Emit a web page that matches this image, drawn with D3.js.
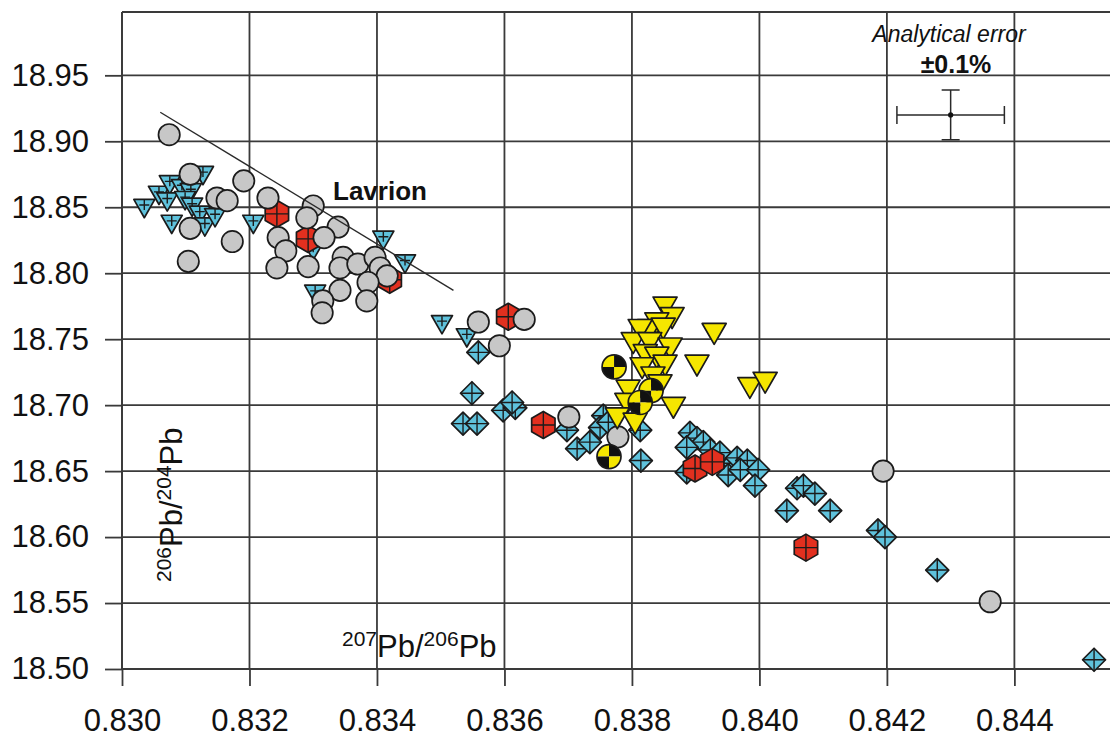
<!DOCTYPE html>
<html>
<head>
<meta charset="utf-8">
<script src="https://cdn.jsdelivr.net/npm/d3@7"></script>
<style>
  html, body { margin: 0; padding: 0; background: #fff; }
  svg { display: block; font-family: "Liberation Sans", Arial, sans-serif; }
</style>
</head>
<body>
<svg id="chart" width="1110" height="738"></svg>
<script>
// ---- data: 207Pb/206Pb (x) vs 206Pb/204Pb (y) ----
const xTicks = [0.830, 0.832, 0.834, 0.836, 0.838, 0.840, 0.842, 0.844];
const yTicks = [18.50, 18.55, 18.60, 18.65, 18.70, 18.75, 18.80, 18.85, 18.90, 18.95];

const blueDiamonds = [
  [0.83559, 18.740], [0.83549, 18.709], [0.83535, 18.686], [0.83557, 18.686],
  [0.83598, 18.696], [0.83617, 18.698], [0.83612, 18.702],
  [0.83698, 18.681], [0.83714, 18.667], [0.83734, 18.672], [0.83755, 18.692],
  [0.83750, 18.683], [0.83763, 18.687], [0.83813, 18.681], [0.83814, 18.658],
  [0.83891, 18.679], [0.83902, 18.675], [0.83912, 18.672], [0.83886, 18.668],
  [0.83886, 18.649], [0.83923, 18.666], [0.83938, 18.664], [0.83959, 18.656],
  [0.83951, 18.647], [0.83965, 18.660], [0.83981, 18.658], [0.83970, 18.651],
  [0.83998, 18.651], [0.83993, 18.639], [0.84059, 18.637], [0.84069, 18.639],
  [0.84087, 18.633], [0.84043, 18.620], [0.84111, 18.620], [0.84186, 18.605],
  [0.84197, 18.600], [0.84279, 18.575], [0.84525, 18.507]
];

const blueTriangles = [
  [0.83035, 18.849], [0.83058, 18.859], [0.83075, 18.867], [0.83071, 18.854],
  [0.83094, 18.864], [0.83108, 18.861], [0.83127, 18.874], [0.83099, 18.855],
  [0.83110, 18.850], [0.83122, 18.844], [0.83078, 18.837], [0.83130, 18.835],
  [0.83146, 18.842], [0.83206, 18.837], [0.83300, 18.817], [0.83410, 18.825],
  [0.83444, 18.807], [0.83303, 18.784], [0.83502, 18.761], [0.83541, 18.751]
];

const redHexagons = [
  [0.83243, 18.845], [0.83292, 18.826], [0.83420, 18.795], [0.83606, 18.767],
  [0.83661, 18.685], [0.83899, 18.652], [0.83926, 18.657], [0.84073, 18.592]
];

const grayCircles = [
  [0.83074, 18.905], [0.83107, 18.875], [0.83149, 18.857], [0.83165, 18.855],
  [0.83191, 18.870], [0.83229, 18.857], [0.83300, 18.851], [0.83290, 18.842],
  [0.83339, 18.835], [0.83107, 18.834], [0.83173, 18.824], [0.83245, 18.827],
  [0.83257, 18.817], [0.83243, 18.804], [0.83292, 18.805], [0.83317, 18.827],
  [0.83347, 18.812], [0.83342, 18.804], [0.83370, 18.807], [0.83397, 18.812],
  [0.83405, 18.804], [0.83416, 18.798], [0.83386, 18.793], [0.83342, 18.787],
  [0.83315, 18.779], [0.83314, 18.770], [0.83384, 18.779], [0.83104, 18.809],
  [0.83559, 18.763], [0.83631, 18.765], [0.83592, 18.745], [0.83701, 18.691],
  [0.83778, 18.676], [0.84194, 18.650], [0.84362, 18.551]
];

const yellowTriangles = [
  [0.83852, 18.774], [0.83863, 18.766], [0.83839, 18.762], [0.83828, 18.757],
  [0.83849, 18.758], [0.83813, 18.757], [0.83802, 18.747], [0.83828, 18.747],
  [0.83860, 18.743], [0.83821, 18.738], [0.83839, 18.736], [0.83852, 18.730],
  [0.83816, 18.728], [0.83902, 18.730], [0.83833, 18.721], [0.83844, 18.715],
  [0.83794, 18.711], [0.83792, 18.701], [0.83865, 18.698], [0.83777, 18.690],
  [0.83805, 18.686], [0.83929, 18.754], [0.83985, 18.713], [0.84009, 18.717]
];

const quarteredCircles = [
  [0.83772, 18.729], [0.83830, 18.711], [0.83813, 18.702], [0.83764, 18.661]
];

const lavrionLine = [[0.8306, 18.922], [0.8352, 18.787]];
const errorCenter = [0.843, 18.92];
const errorPercent = 0.1;

// ---- layout ----
const W = 1110, H = 738;
const plotLeft = 122, plotRight = 1110, plotTop = 12, plotBottom = 669;

const x = d3.scaleLinear().domain([0.830, 0.8455]).range([plotLeft, plotRight]);
const y = d3.scaleLinear().domain([18.50, 18.998]).range([plotBottom, plotTop]);

const svg = d3.select("#chart");
const ink = "#1b1b1b";
const gridColor = "#3a3a3a";

// ---- grid ----
const grid = svg.append("g");
grid.selectAll("line.v").data(xTicks).join("line")
  .attr("x1", d => x(d)).attr("x2", d => x(d))
  .attr("y1", y(18.50)).attr("y2", plotTop)
  .attr("stroke", gridColor).attr("stroke-width", 1.8);
grid.selectAll("line.h").data(yTicks).join("line")
  .attr("x1", plotLeft).attr("x2", plotRight)
  .attr("y1", d => y(d)).attr("y2", d => y(d))
  .attr("stroke", gridColor).attr("stroke-width", 1.8);
grid.append("line").attr("x1", plotLeft).attr("x2", plotRight)
  .attr("y1", plotTop).attr("y2", plotTop)
  .attr("stroke", gridColor).attr("stroke-width", 1.8);
grid.append("line").attr("x1", plotLeft).attr("x2", plotLeft)
  .attr("y1", plotTop).attr("y2", plotBottom)
  .attr("stroke", gridColor).attr("stroke-width", 1.8);

// ---- axes ----
const yAxis = svg.append("g").attr("transform", `translate(${plotLeft},0)`)
  .call(d3.axisLeft(y).tickValues(yTicks).tickFormat(d3.format(".2f"))
    .tickSize(17).tickPadding(16).tickSizeOuter(0));
const xAxis = svg.append("g").attr("transform", `translate(0,${plotBottom})`)
  .call(d3.axisBottom(x).tickValues(xTicks).tickFormat(d3.format(".3f"))
    .tickSize(17).tickPadding(23).tickSizeOuter(0));
[yAxis, xAxis].forEach(g => {
  g.select(".domain").remove();
  g.selectAll(".tick line").attr("stroke", gridColor).attr("stroke-width", 1.8);
  g.selectAll(".tick text").attr("fill", "#111")
    .style("font-family", "'Liberation Sans', Arial, sans-serif");
});
yAxis.selectAll(".tick text").style("font-size", "31px");
xAxis.selectAll(".tick text").style("font-size", "31px");

// ---- symbol shapes (size = radius squared) ----
const hexagon = {
  draw(ctx, size) {
    const r = Math.sqrt(size);
    for (let i = 0; i < 6; i++) {
      const a = -Math.PI / 2 + i * Math.PI / 3;
      i ? ctx.lineTo(r * Math.cos(a), r * Math.sin(a)) : ctx.moveTo(r * Math.cos(a), r * Math.sin(a));
    }
    ctx.closePath();
  }
};
const diamond = {
  draw(ctx, size) {
    const r = Math.sqrt(size);
    ctx.moveTo(0, -r); ctx.lineTo(r, 0); ctx.lineTo(0, r); ctx.lineTo(-r, 0); ctx.closePath();
  }
};
const downTriangle = {
  draw(ctx, size) {
    const r = Math.sqrt(size);          // half width
    const h = r * 0.87;                 // half height
    ctx.moveTo(-r, -h); ctx.lineTo(r, -h); ctx.lineTo(0, h); ctx.closePath();
  }
};
const circle = {
  draw(ctx, size) {
    const r = Math.sqrt(size);
    ctx.moveTo(r, 0); ctx.arc(0, 0, r, 0, 2 * Math.PI);
  }
};
const sym = (type, r) => d3.symbol().type(type).size(r * r)();

function markers(data, shape, r, fill, cross) {
  const g = svg.append("g");
  const m = g.selectAll("g").data(data).join("g")
    .attr("transform", d => `translate(${x(d[0])},${y(d[1])})`);
  m.append("path").attr("d", sym(shape, r))
    .attr("fill", fill).attr("stroke", ink).attr("stroke-width", 1.7)
    .attr("stroke-linejoin", "round");
  if (cross) m.append("path").attr("d", cross)
    .attr("fill", "none").attr("stroke", ink).attr("stroke-width", 1.4);
  return m;
}

// ---- marks ----
markers(blueDiamonds, diamond, 11.5, "#5fc2dc", "M-11.5,0H11.5M0,-11.5V11.5");
markers(blueTriangles, downTriangle, 10.5, "#5fc2dc", "M-5,-3.5H5M0,-8.5V1.5");
markers(redHexagons, hexagon, 13.5, "#e2301f", "M0,-13.5V13.5M-11.7,0H11.7");
markers(grayCircles, circle, 10.7, "#c7c7c7", null);
markers(yellowTriangles, downTriangle, 12, "#f5e600", null);

const qc = svg.append("g").selectAll("g").data(quarteredCircles).join("g")
  .attr("transform", d => `translate(${x(d[0])},${y(d[1])})`);
const quarter = d3.arc().innerRadius(0).outerRadius(12);
[["#f5e600", -Math.PI / 2, 0], ["#111", 0, Math.PI / 2],
 ["#f5e600", Math.PI / 2, Math.PI], ["#111", Math.PI, 1.5 * Math.PI]].forEach(([c, a0, a1]) => {
  qc.append("path").attr("d", quarter({startAngle: a0, endAngle: a1})).attr("fill", c);
});
qc.append("circle").attr("r", 12).attr("fill", "none").attr("stroke", ink).attr("stroke-width", 1.7);

// ---- Lavrion trend ----
svg.append("path")
  .attr("d", d3.line().x(d => x(d[0])).y(d => y(d[1]))(lavrionLine))
  .attr("stroke", "#2a2a2a").attr("stroke-width", 1.4).attr("fill", "none");
svg.append("text").attr("x", 333).attr("y", 200)
  .attr("font-size", 26).attr("font-weight", "bold").attr("fill", "#111")
  .text("Lavrion");

// ---- analytical error bar (±0.1 %) ----
const ex = errorCenter[0], ey = errorCenter[1];
const dx = ex * errorPercent / 100, dy = ey * errorPercent / 100;
const eb = svg.append("g").attr("stroke", "#2a2a2a").attr("stroke-width", 1.5).attr("fill", "none");
eb.append("path").attr("d",
  `M${x(ex - dx)},${y(ey)}H${x(ex + dx)}` +
  `M${x(ex - dx)},${y(ey) - 9}V${y(ey) + 9}M${x(ex + dx)},${y(ey) - 9}V${y(ey) + 9}` +
  `M${x(ex)},${y(ey + dy)}V${y(ey - dy)}` +
  `M${x(ex) - 9},${y(ey + dy)}H${x(ex) + 9}M${x(ex) - 9},${y(ey - dy)}H${x(ex) + 9}`);
svg.append("circle").attr("cx", x(ex)).attr("cy", y(ey)).attr("r", 2.6).attr("fill", "#111");
svg.append("text").attr("x", 949).attr("y", 42).attr("text-anchor", "middle")
  .attr("font-size", 23).attr("font-style", "italic").attr("fill", "#111")
  .text("Analytical error");
svg.append("text").attr("x", 956).attr("y", 73).attr("text-anchor", "middle")
  .attr("font-size", 25).attr("font-weight", "bold").attr("fill", "#111")
  .text("±0.1%");

// ---- axis titles (inside the plot) ----
function isoTitle(sel, a, b) {
  sel.append("tspan").attr("font-size", 21).attr("dy", -11).text(a);
  sel.append("tspan").attr("dy", 11).text("Pb/");
  sel.append("tspan").attr("font-size", 21).attr("dy", -11).text(b);
  sel.append("tspan").attr("dy", 11).text("Pb");
}
const xt = svg.append("text").attr("x", 342).attr("y", 657)
  .attr("font-size", 31).attr("fill", "#111");
isoTitle(xt, "207", "206");
const yt = svg.append("text").attr("transform", "translate(182,582) rotate(-90)")
  .attr("font-size", 31).attr("fill", "#111");
isoTitle(yt, "206", "204");
</script>
</body>
</html>
